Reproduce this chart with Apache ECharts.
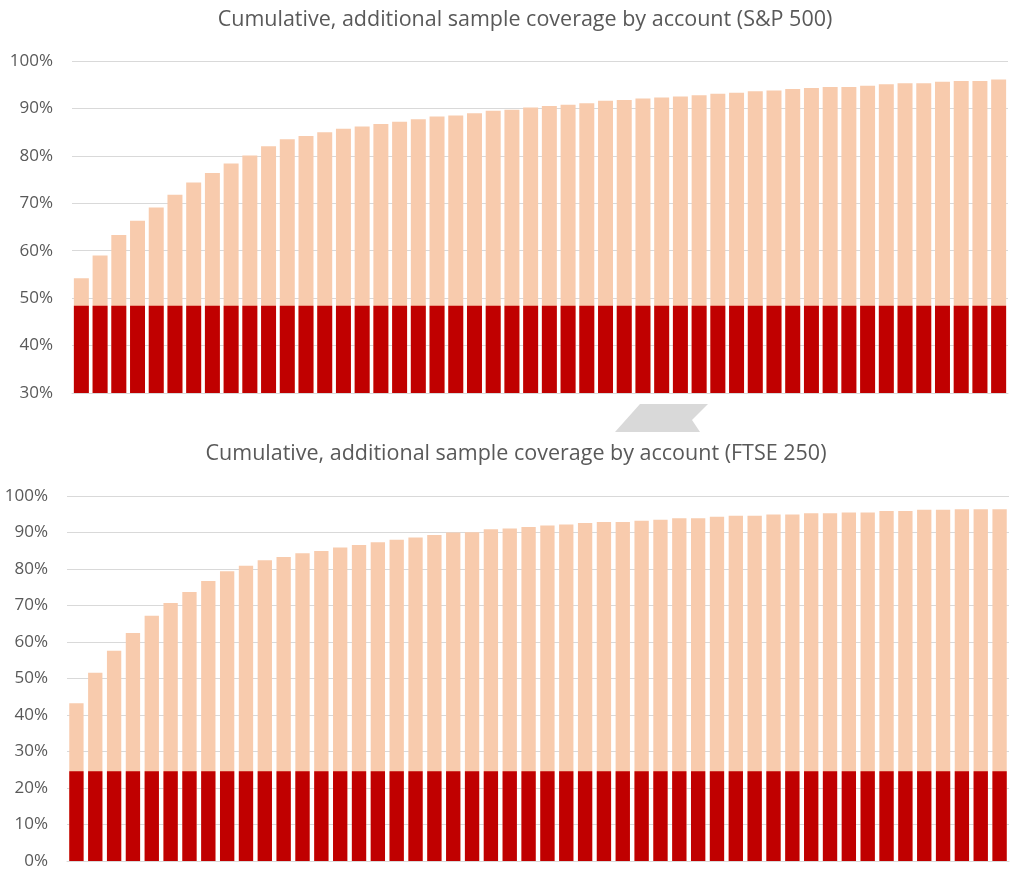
<!DOCTYPE html>
<html>
<head>
<meta charset="utf-8">
<script src="https://cdn.jsdelivr.net/npm/echarts@6/dist/echarts.min.js"></script>
<style>html,body{margin:0;padding:0;background:#fff}#c{width:1013px;height:871px}</style>
</head>
<body>
<div id="c"></div>
<script>
const titleTop = 'Cumulative, additional sample coverage by account (S&P 500)';
const titleBottom = 'Cumulative, additional sample coverage by account (FTSE 250)';
const accounts = Array.from({length: 50}, (_, i) => 'Account ' + (i + 1));
const spTotal = [54.2,59.0,63.3,66.3,69.1,71.8,74.4,76.4,78.4,80.1,82.0,83.5,84.2,85.0,85.7,86.2,86.7,87.2,87.7,88.3,88.5,89.0,89.5,89.7,90.2,90.5,90.8,91.1,91.6,91.8,92.1,92.3,92.5,92.8,93.1,93.3,93.6,93.8,94.1,94.3,94.5,94.5,94.8,95.1,95.3,95.3,95.6,95.8,95.8,96.1];
const spBase = 48.4;
const ftseTotal = [43.2,51.6,57.6,62.5,67.2,70.7,73.7,76.7,79.4,80.9,82.4,83.3,84.3,84.9,85.9,86.6,87.3,88.0,88.6,89.3,90.0,90.1,90.9,91.1,91.5,91.9,92.2,92.6,92.9,92.9,93.2,93.5,93.9,93.9,94.3,94.6,94.6,94.9,94.9,95.3,95.3,95.5,95.5,95.9,95.9,96.2,96.2,96.4,96.4,96.4];
const ftseBase = 24.6;
const yTicksTop = [30, 100, 10];
const yTicksBottom = [0, 100, 10];

const PEACH = '#F8CBAD', RED = '#C00000', TXT = '#595959', GRID = '#D9D9D9';
const font = 'Open Sans';

const chart = echarts.init(document.getElementById('c'), null, {renderer: 'canvas'});
function yAxis(idx, t) {
  return {
    type: 'value', gridIndex: idx, min: t[0], max: t[1], interval: t[2],
    axisLabel: {formatter: v => v + '%', color: TXT, fontSize: 17, fontFamily: font, margin: 19},
    axisLine: {show: false}, axisTick: {show: false},
    splitLine: {lineStyle: {color: GRID, width: 1}}
  };
}
function xAxis(idx) {
  return {
    type: 'category', gridIndex: idx, data: accounts,
    axisLabel: {show: false}, axisTick: {show: false},
    axisLine: {show: true, lineStyle: {color: GRID, width: 1}}
  };
}
chart.setOption({
  animation: false,
  backgroundColor: '#fff',
  title: [
    {text: titleTop, left: 520, top: 4, textAlign: 'center',
     textStyle: {color: TXT, fontSize: 21.5, fontWeight: 'normal', fontFamily: font}},
    {text: titleBottom, left: 511, top: 438, textAlign: 'center',
     textStyle: {color: TXT, fontSize: 21.5, fontWeight: 'normal', fontFamily: font}}
  ],
  grid: [
    {left: 72, right: 5, top: 61, height: 332, containLabel: false},
    {left: 67, right: 4, top: 496, height: 365, containLabel: false}
  ],
  xAxis: [xAxis(0), xAxis(1)],
  yAxis: [yAxis(0, yTicksTop), yAxis(1, yTicksBottom)],
  series: [
    {type: 'bar', xAxisIndex: 0, yAxisIndex: 0, data: spTotal, barCategoryGap: '20%', barGap: '-100%',
     itemStyle: {color: PEACH}, silent: true},
    {type: 'bar', xAxisIndex: 0, yAxisIndex: 0, data: spTotal.map(() => spBase), barCategoryGap: '20%', barGap: '-100%',
     itemStyle: {color: RED}, silent: true},
    {type: 'bar', xAxisIndex: 1, yAxisIndex: 1, data: ftseTotal, barCategoryGap: '24%', barGap: '-100%',
     itemStyle: {color: PEACH}, silent: true},
    {type: 'bar', xAxisIndex: 1, yAxisIndex: 1, data: ftseTotal.map(() => ftseBase), barCategoryGap: '24%', barGap: '-100%',
     itemStyle: {color: RED}, silent: true}
  ],
  graphic: [
    {type: 'polygon', silent: true, z: 10,
     shape: {points: [[640, 404], [708, 404], [692, 420], [700, 432], [615, 432]]},
     style: {fill: '#D9D9D9'}}
  ]
});
</script>
</body>
</html>
